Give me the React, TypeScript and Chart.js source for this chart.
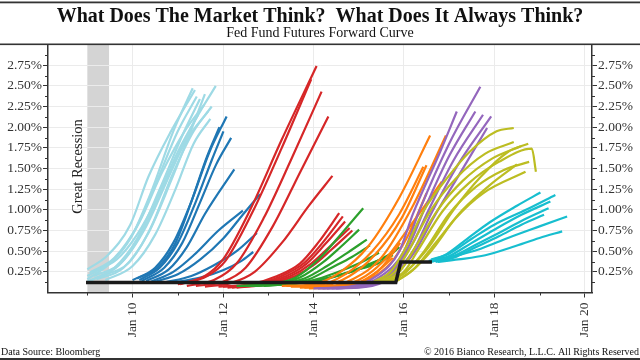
import React, { useEffect, useRef } from 'react';
import { Chart, registerables } from 'chart.js';

Chart.register(...registerables);

const TITLE = 'What Does The Market Think?  What Does It Always Think?';
const SUBTITLE = 'Fed Fund Futures Forward Curve';
const SOURCE = 'Data Source: Bloomberg';
const COPYRIGHT = '\u00A9 2016 Bianco Research, L.L.C. All Rights Reserved';
const RECESSION_LABEL = 'Great Recession';
const RECESSION = [2009.0, 2009.48];

const X_MIN = 2008.13;
const X_MAX = 2020.16;
const X_TICKS = [2010, 2012, 2014, 2016, 2018, 2020];
const X_MINOR = [2009, 2011, 2013, 2015, 2017, 2019];
const Y_MIN = 0;
const Y_MAX = 3;
const Y_TICKS = [0.25, 0.5, 0.75, 1, 1.25, 1.5, 1.75, 2, 2.25, 2.5, 2.75];
const Y_MINOR = [0.125, 0.375, 0.625, 0.875, 1.125, 1.375, 1.625, 1.875, 2.125, 2.375, 2.625, 2.875];

// Effective fed funds (black step line)
const FED_FUNDS = [[2008.97, 0.12], [2015.82, 0.12], [2015.93, 0.37], [2016.62, 0.37]];

// Forward curves, one array per colour group: [year, rate %]
const LIGHT_BLUE_CURVES = [
  [[2009.0, 0.16], [2009.5, 0.35], [2009.95, 0.65], [2010.4, 1.2], [2010.9, 1.95], [2011.33, 2.47]],
  [[2009.0, 0.2], [2009.55, 0.38], [2010.05, 0.75], [2010.5, 1.3], [2011.0, 1.95], [2011.42, 2.37]],
  [[2009.0, 0.13], [2009.6, 0.3], [2010.1, 0.65], [2010.6, 1.25], [2011.1, 1.9], [2011.49, 2.34]],
  [[2009.05, 0.24], [2009.6, 0.42], [2010.15, 0.85], [2010.65, 1.45], [2011.15, 1.95], [2011.58, 2.27]],
  [[2009.1, 0.15], [2009.7, 0.33], [2010.2, 0.72], [2010.7, 1.3], [2011.2, 1.85], [2011.67, 2.19]],
  [[2009.15, 0.2], [2009.75, 0.36], [2010.3, 0.8], [2010.8, 1.4], [2011.3, 2.0], [2011.84, 2.5]],
  [[2009.2, 0.16], [2009.8, 0.3], [2010.35, 0.72], [2010.85, 1.35], [2011.25, 1.9], [2011.6, 2.4]],
  [[2009.3, 0.2], [2009.9, 0.35], [2010.4, 0.78], [2010.9, 1.45], [2011.35, 1.95], [2011.75, 2.25]],
  [[2009.4, 0.15], [2010.0, 0.32], [2010.5, 0.7], [2010.95, 1.25], [2011.35, 1.8], [2011.72, 2.1]],
  [[2009.0, 0.28], [2009.45, 0.45], [2009.95, 0.82], [2010.35, 1.4], [2010.85, 1.95], [2011.38, 2.45]],
  [[2009.1, 0.25], [2009.65, 0.4], [2010.1, 0.7], [2010.55, 1.15], [2011.0, 1.7], [2011.45, 2.15]],
];

const BLUE_CURVES = [
  [[2010.0, 0.15], [2010.5, 0.3], [2010.9, 0.6], [2011.3, 1.1], [2011.7, 1.7], [2012.08, 2.13]],
  [[2010.1, 0.17], [2010.55, 0.3], [2010.95, 0.6], [2011.3, 1.1], [2011.65, 1.65], [2011.92, 2.0]],
  [[2010.15, 0.15], [2010.6, 0.3], [2011.0, 0.6], [2011.4, 1.1], [2011.75, 1.6], [2012.01, 1.95]],
  [[2010.2, 0.14], [2010.7, 0.3], [2011.1, 0.6], [2011.5, 1.1], [2011.85, 1.55], [2012.18, 1.87]],
  [[2010.3, 0.14], [2010.8, 0.28], [2011.2, 0.55], [2011.6, 0.95], [2012.25, 1.49]],
  [[2010.4, 0.13], [2010.9, 0.25], [2011.35, 0.45], [2011.9, 0.75], [2012.44, 0.99]],
  [[2010.5, 0.13], [2011.0, 0.22], [2011.5, 0.4], [2012.0, 0.65], [2012.45, 0.95], [2012.82, 1.19]],
  [[2010.7, 0.12], [2011.3, 0.2], [2011.8, 0.33], [2012.3, 0.5], [2012.75, 0.72]],
  [[2010.9, 0.12], [2011.5, 0.18], [2012.0, 0.27], [2012.4, 0.38], [2012.67, 0.49]],
];

const RED_CURVES = [
  [[2011.0, 0.1], [2011.6, 0.2], [2012.0, 0.4], [2012.6, 1.0], [2013.3, 1.85], [2014.07, 2.74]],
  [[2011.05, 0.1], [2011.65, 0.2], [2012.05, 0.38], [2012.65, 0.97], [2013.3, 1.75], [2013.95, 2.58]],
  [[2011.2, 0.08], [2011.8, 0.15], [2012.3, 0.35], [2012.9, 0.9], [2013.5, 1.6], [2014.18, 2.43]],
  [[2011.4, 0.08], [2012.0, 0.13], [2012.5, 0.3], [2013.1, 0.8], [2013.7, 1.45], [2014.33, 2.13]],
  [[2011.6, 0.07], [2012.2, 0.12], [2012.7, 0.25], [2013.3, 0.6], [2013.9, 1.05], [2014.42, 1.41]],
  [[2011.9, 0.07], [2012.6, 0.1], [2013.2, 0.2], [2013.7, 0.35], [2014.1, 0.6], [2014.57, 0.96]],
  [[2012.0, 0.07], [2012.7, 0.1], [2013.3, 0.2], [2013.8, 0.36], [2014.2, 0.6], [2014.65, 0.92]],
  [[2012.1, 0.06], [2012.8, 0.1], [2013.4, 0.2], [2013.85, 0.35], [2014.25, 0.58], [2014.7, 0.86]],
  [[2012.2, 0.06], [2012.9, 0.1], [2013.5, 0.2], [2013.95, 0.35], [2014.35, 0.55], [2014.8, 0.78]],
  [[2012.3, 0.06], [2013.0, 0.1], [2013.6, 0.2], [2014.0, 0.33], [2014.4, 0.52], [2014.86, 0.75]],
];

const GREEN_CURVES = [
  [[2012.3, 0.08], [2013.0, 0.1], [2013.6, 0.18], [2014.15, 0.42], [2014.6, 0.7], [2015.1, 1.02]],
  [[2012.4, 0.08], [2013.1, 0.1], [2013.7, 0.18], [2014.2, 0.36], [2014.6, 0.55], [2015.01, 0.76]],
  [[2012.5, 0.08], [2013.2, 0.1], [2013.8, 0.17], [2014.3, 0.32], [2014.75, 0.48], [2015.18, 0.64]],
  [[2012.6, 0.08], [2013.3, 0.1], [2013.9, 0.16], [2014.4, 0.3], [2014.85, 0.43], [2015.25, 0.57]],
  [[2012.7, 0.08], [2013.4, 0.1], [2014.0, 0.15], [2014.5, 0.24], [2015.0, 0.35], [2015.45, 0.48]],
  [[2012.9, 0.08], [2013.6, 0.11], [2014.2, 0.16], [2014.8, 0.25], [2015.3, 0.36], [2015.76, 0.45]],
  [[2013.0, 0.09], [2013.8, 0.12], [2014.4, 0.18], [2015.0, 0.28], [2015.5, 0.37], [2015.9, 0.55]],
  [[2013.2, 0.1], [2013.9, 0.13], [2014.5, 0.2], [2015.1, 0.3], [2015.55, 0.42], [2015.8, 0.5]],
];

const ORANGE_CURVES = [
  [[2013.3, 0.08], [2014.0, 0.1], [2014.6, 0.25], [2015.2, 0.55], [2015.9, 1.15], [2016.58, 1.9]],
  [[2013.4, 0.08], [2014.1, 0.09], [2014.7, 0.22], [2015.3, 0.5], [2015.9, 0.95], [2016.43, 1.52]],
  [[2013.5, 0.07], [2014.2, 0.08], [2014.8, 0.2], [2015.35, 0.45], [2015.95, 0.9], [2016.5, 1.54]],
  [[2013.7, 0.06], [2014.3, 0.07], [2014.9, 0.17], [2015.5, 0.42], [2016.2, 1.05], [2016.93, 1.9]],
  [[2013.8, 0.06], [2014.4, 0.07], [2015.0, 0.15], [2015.55, 0.38], [2016.2, 0.85], [2016.84, 1.34]],
  [[2014.0, 0.06], [2014.6, 0.08], [2015.1, 0.14], [2015.5, 0.3], [2015.92, 0.6]],
  [[2014.1, 0.06], [2014.7, 0.08], [2015.2, 0.15], [2015.7, 0.35], [2016.1, 0.7], [2016.5, 1.2]],
  [[2013.9, 0.05], [2014.5, 0.06], [2015.0, 0.12], [2015.4, 0.25], [2015.75, 0.42]],
];

const PURPLE_CURVES = [
  [[2014.0, 0.05], [2014.8, 0.07], [2015.4, 0.2], [2015.9, 0.5], [2016.2, 0.95], [2016.8, 1.7], [2017.17, 2.19]],
  [[2014.1, 0.05], [2014.9, 0.07], [2015.5, 0.2], [2016.0, 0.5], [2016.35, 1.0], [2017.0, 1.8], [2017.69, 2.49]],
  [[2014.2, 0.05], [2015.0, 0.07], [2015.6, 0.2], [2016.05, 0.5], [2016.45, 1.0], [2017.0, 1.65], [2017.58, 2.19]],
  [[2014.3, 0.05], [2015.1, 0.07], [2015.7, 0.22], [2016.15, 0.55], [2016.55, 1.0], [2017.1, 1.6], [2017.75, 2.15]],
  [[2014.4, 0.05], [2015.2, 0.08], [2015.75, 0.22], [2016.2, 0.5], [2016.6, 0.95], [2017.2, 1.55], [2017.93, 2.13]],
  [[2014.5, 0.05], [2015.3, 0.08], [2015.8, 0.22], [2016.25, 0.5], [2016.65, 0.9], [2017.25, 1.45], [2017.84, 1.99]],
];

const OLIVE_CURVES = [
  [[2015.3, 0.12], [2015.7, 0.25], [2016.0, 0.5], [2016.45, 1.0], [2016.95, 1.38], [2017.45, 1.7], [2018.05, 1.95], [2018.43, 1.99]],
  [[2015.4, 0.12], [2015.8, 0.25], [2016.1, 0.5], [2016.6, 1.0], [2017.15, 1.38], [2017.8, 1.68], [2018.43, 1.82]],
  [[2015.5, 0.12], [2015.9, 0.25], [2016.2, 0.5], [2016.75, 1.0], [2017.3, 1.35], [2017.95, 1.62], [2018.59, 1.77]],
  [[2015.6, 0.13], [2016.0, 0.25], [2016.3, 0.5], [2016.85, 0.98], [2017.45, 1.33], [2018.1, 1.58], [2018.83, 1.74], [2018.92, 1.46]],
  [[2015.7, 0.13], [2016.05, 0.25], [2016.45, 0.5], [2017.0, 0.95], [2017.6, 1.28], [2018.2, 1.48], [2018.77, 1.58]],
  [[2015.8, 0.13], [2016.15, 0.25], [2016.6, 0.5], [2017.15, 0.9], [2017.75, 1.2], [2018.69, 1.46]],
  [[2015.75, 0.15], [2016.1, 0.28], [2016.55, 0.55], [2017.1, 1.0], [2017.7, 1.4], [2018.3, 1.7], [2018.75, 1.8]],
  [[2015.85, 0.14], [2016.25, 0.3], [2016.7, 0.6], [2017.3, 1.0], [2017.9, 1.3], [2018.5, 1.55]],
];

const CYAN_CURVES = [
  [[2016.55, 0.38], [2016.9, 0.45], [2017.4, 0.65], [2017.9, 0.85], [2018.5, 1.05], [2019.02, 1.21]],
  [[2016.6, 0.4], [2017.0, 0.47], [2017.5, 0.65], [2018.0, 0.82], [2018.7, 1.0], [2019.35, 1.18]],
  [[2016.6, 0.37], [2017.0, 0.44], [2017.5, 0.6], [2018.0, 0.76], [2018.6, 0.94], [2019.24, 1.1]],
  [[2016.65, 0.38], [2017.05, 0.43], [2017.6, 0.58], [2018.1, 0.72], [2018.65, 0.88], [2019.2, 1.02]],
  [[2016.7, 0.37], [2017.1, 0.42], [2017.6, 0.55], [2018.1, 0.68], [2018.6, 0.82], [2019.1, 0.94]],
  [[2016.7, 0.4], [2017.1, 0.44], [2017.7, 0.53], [2018.3, 0.66], [2019.0, 0.8], [2019.61, 0.92]],
  [[2016.75, 0.37], [2017.2, 0.4], [2017.8, 0.45], [2018.4, 0.55], [2019.0, 0.66], [2019.5, 0.74]],
];

const GROUPS: [any[], string][] = [
  [CYAN_CURVES, '#17becf'],
  [OLIVE_CURVES, '#bcbd22'],
  [PURPLE_CURVES, '#9467bd'],
  [ORANGE_CURVES, '#ff7f0e'],
  [GREEN_CURVES, '#2ca02c'],
  [RED_CURVES, '#d62728'],
  [BLUE_CURVES, '#1f77b4'],
  [LIGHT_BLUE_CURVES, '#9edae5'],
];

const SERIF = '"Liberation Serif", "Times New Roman", serif';
const AXIS_COLOR = '#333';

const decorPlugin = {
  id: 'decor',
  beforeDraw(chart: any) {
    const { ctx, chartArea: a, scales } = chart;
    ctx.save();
    ctx.fillStyle = '#ffffff';
    ctx.fillRect(0, 0, chart.width, chart.height);
    const x0 = scales.x.getPixelForValue(RECESSION[0]);
    const x1 = scales.x.getPixelForValue(RECESSION[1]);
    ctx.fillStyle = '#d4d4d4';
    ctx.fillRect(x0, a.top, x1 - x0, a.bottom - a.top);
    ctx.restore();
  },
  afterDraw(chart: any) {
    const { ctx, chartArea: a, scales } = chart;
    const W = chart.width;
    ctx.save();
    ctx.fillStyle = AXIS_COLOR;
    ctx.fillRect(0, 1.5, W, 1.8);
    ctx.fillRect(0, a.top - 1, W, 1.6);
    ctx.fillRect(0, 358, W, 2);
    ctx.strokeStyle = AXIS_COLOR;
    ctx.lineWidth = 1;
    ctx.beginPath();
    X_MINOR.forEach((v) => {
      const px = Math.round(scales.x.getPixelForValue(v)) + 0.5;
      ctx.moveTo(px, a.bottom);
      ctx.lineTo(px, a.bottom + 3);
    });
    Y_MINOR.forEach((v) => {
      const py = Math.round(scales.y.getPixelForValue(v)) + 0.5;
      ctx.moveTo(a.left, py);
      ctx.lineTo(a.left - 3, py);
      ctx.moveTo(a.right, py);
      ctx.lineTo(a.right + 3, py);
    });
    ctx.stroke();
    ctx.fillStyle = '#111';
    ctx.textAlign = 'center';
    ctx.textBaseline = 'alphabetic';
    ctx.font = 'bold 20px ' + SERIF;
    ctx.fillText(TITLE, W / 2, 21.5);
    ctx.font = '14px ' + SERIF;
    ctx.fillText(SUBTITLE, W / 2, 36.5);
    ctx.font = '10px ' + SERIF;
    ctx.textAlign = 'left';
    ctx.fillText(SOURCE, 1, 355);
    ctx.textAlign = 'right';
    ctx.fillText(COPYRIGHT, W - 1, 355);
    ctx.translate(78.5, 166.5);
    ctx.rotate(-Math.PI / 2);
    ctx.textAlign = 'center';
    ctx.textBaseline = 'middle';
    ctx.font = '14.5px ' + SERIF;
    ctx.fillStyle = '#222';
    ctx.fillText(RECESSION_LABEL, 0, 0);
    ctx.restore();
  },
};

export default function App() {
  const ref = useRef<HTMLCanvasElement | null>(null);

  useEffect(() => {
    if (!ref.current) return;
    const datasets: any[] = [
      {
        data: FED_FUNDS,
        borderColor: '#1a1a1a',
        borderWidth: 3.5,
        pointRadius: 0,
        tension: 0,
        yAxisID: 'y',
      },
    ];
    GROUPS.forEach(([curves, color]) => {
      curves.forEach((c: number[][]) => {
        datasets.push({
          data: c,
          borderColor: color,
          borderWidth: 2.2,
          pointRadius: 0,
          cubicInterpolationMode: 'monotone',
          yAxisID: 'y',
        });
      });
    });

    const yAxisBase = (position: string) => ({
      type: 'linear',
      position,
      min: Y_MIN,
      max: Y_MAX,
      afterBuildTicks: (s: any) => {
        s.ticks = Y_TICKS.map((v) => ({ value: v }));
      },
      afterFit: (s: any) => {
        s.width = 48;
      },
      border: { color: AXIS_COLOR, width: 1.5 },
      grid: {
        color: '#ebebeb',
        lineWidth: 1,
        tickColor: AXIS_COLOR,
        tickLength: 5,
        drawOnChartArea: position === 'left',
      },
      ticks: {
        padding: 1,
        color: '#333',
        font: { family: SERIF, size: 13.5 },
        callback: (v: any) => Number(v).toFixed(2) + '%',
      },
    });

    const chart = new Chart(ref.current, {
      type: 'line',
      data: { datasets },
      plugins: [decorPlugin],
      options: {
        animation: false,
        responsive: false,
        maintainAspectRatio: false,
        layout: { padding: { top: 44.5, left: 0, right: 0, bottom: 20 } },
        plugins: { legend: { display: false }, tooltip: { enabled: false } },
        scales: {
          x: {
            type: 'linear',
            min: X_MIN,
            max: X_MAX,
            afterBuildTicks: (s: any) => {
              s.ticks = X_TICKS.map((v) => ({ value: v }));
            },
            afterFit: (s: any) => {
              s.height = 47.5;
            },
            border: { color: AXIS_COLOR, width: 1.5 },
            grid: { color: '#ebebeb', lineWidth: 1, tickColor: AXIS_COLOR, tickLength: 5 },
            ticks: {
              minRotation: 90,
              maxRotation: 90,
              padding: 5,
              color: '#333',
              font: { family: SERIF, size: 13.5 },
              callback: (v: any) => 'Jan ' + String(v).slice(2),
            },
          },
          y: yAxisBase('left') as any,
          y2: yAxisBase('right') as any,
        },
      } as any,
    });
    return () => chart.destroy();
  }, []);

  return (
    <div style={{ position: 'absolute', left: 0, top: 0, width: 640, height: 360 }}>
      <canvas ref={ref} width={640} height={360} style={{ display: 'block' }} />
    </div>
  );
}
